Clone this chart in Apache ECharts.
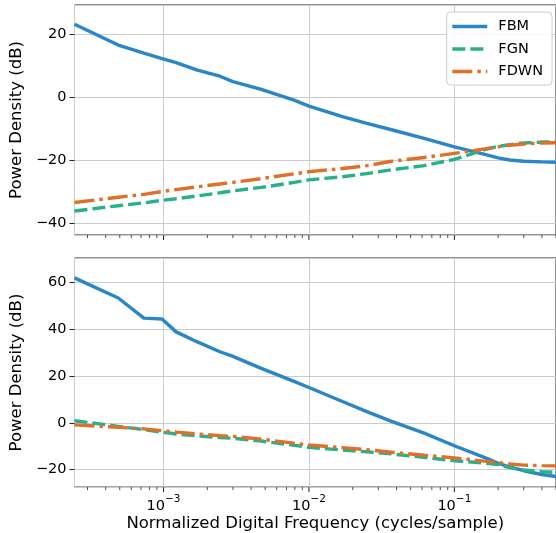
<!DOCTYPE html>
<html>
<head>
<meta charset="utf-8">
<script src="https://cdn.jsdelivr.net/npm/echarts@6/dist/echarts.min.js"></script>
<style>html,body{margin:0;padding:0;background:#fff}#c{width:556px;height:533px}</style>
</head>
<body>
<div id="c"></div>
<script>
// Frequencies (cycles/sample)
const freqs = [1/4096, 2/4096, 3/4096, 4/4096, 5/4096, 7/4096, 10/4096, 0.003, 0.0047, 0.0079, 0.01, 0.017, 0.025, 0.037, 0.062, 0.1, 0.167, 0.2, 0.24, 0.3, 0.4, 0.5];
// Top panel (dB)
const fbmTop  = [23.1, 16.5, 13.9, 12.2, 10.9, 8.5, 6.6, 4.9, 2.4, -1.0, -2.9, -6.2, -8.4, -10.4, -13.1, -15.8, -18.4, -19.3, -20.0, -20.4, -20.6, -20.7];
const fgnTop  = [-36.2, -34.5, -33.6, -32.8, -32.3, -31.4, -30.4, -29.8, -28.7, -27.1, -26.3, -25.3, -24.3, -23.1, -21.8, -19.8, -16.5, -15.7, -15.1, -14.6, -14.3, -14.2];
const fdwnTop = [-33.5, -31.8, -30.9, -30.0, -29.4, -28.5, -27.6, -27.1, -25.9, -24.4, -23.7, -22.7, -21.8, -20.4, -19.2, -17.9, -16.4, -15.8, -15.3, -14.9, -14.6, -14.5];
// Bottom panel (dB)
const fbmBot  = [62.0, 53.4, 44.8, 44.4, 38.9, 34.6, 30.4, 28.4, 23.3, 17.7, 15.1, 9.1, 4.8, 0.6, -4.4, -9.8, -15.2, -17.3, -18.8, -20.5, -22.1, -23.0];
const fgnBot  = [0.9, -1.5, -2.9, -4.0, -4.8, -5.6, -6.3, -6.6, -7.8, -9.6, -10.5, -11.6, -12.4, -13.3, -14.8, -16.2, -17.3, -17.9, -19.2, -20.2, -20.9, -21.2];
const fdwnBot = [-0.9, -1.9, -2.6, -3.4, -4.0, -4.8, -5.5, -5.8, -7.0, -8.7, -9.5, -10.6, -11.5, -12.6, -13.9, -15.0, -16.5, -17.0, -17.6, -18.1, -18.3, -18.4];
const seriesNames = ['FBM', 'FGN', 'FDWN'];
const xMin = 1/4096, xMax = 0.5;
const yRangeTop = [-43.8, 29.2];
const yRangeBot = [-27.5, 70.5];
const yAxisTitle = 'Power Density (dB)';
const xAxisTitle = 'Normalized Digital Frequency (cycles/sample)';

const colors = {FBM: '#2a86c4', FGN: '#27b08c', FDWN: '#df7029'};
const FONT = 'DejaVu Sans';

// tick marks for log axis (major at decades, minor at 2..9)
const tickData = [];
for (let d = -4; d <= -1; d++) {
  for (let k = 1; k <= 9; k++) {
    const v = k * Math.pow(10, d);
    if (v >= xMin && v <= xMax) tickData.push([v, k === 1 ? 1 : 0]);
  }
}

function pairs(ys) { return freqs.map((f, i) => [f, ys[i]]); }
function minusFmt(v) { return v < 0 ? '\u2212' + (-v) : String(v); }

const lineStyles = {
  FBM: {width: 3.4, type: 'solid'},
  FGN: {width: 3.4, type: [13, 5]},
  FDWN: {width: 3.4, type: [20, 5, 3.5, 5]}
};

function mkLine(name, ys, idx) {
  return {
    name: name, type: 'line', xAxisIndex: idx, yAxisIndex: idx,
    data: pairs(ys), symbol: 'none', showSymbol: false, animation: false,
    lineStyle: {color: colors[name], width: lineStyles[name].width, type: lineStyles[name].type, cap: 'butt'},
    itemStyle: {color: colors[name]}
  };
}

function mkTicks(idx, ymin) {
  return {
    type: 'custom', xAxisIndex: idx, yAxisIndex: idx, data: tickData, silent: true, animation: false, clip: false,
    renderItem: function (params, api) {
      const p = api.coord([api.value(0), ymin]);
      const major = api.value(1) === 1;
      return {type: 'line', shape: {x1: p[0], y1: p[1], x2: p[0], y2: p[1] + (major ? 5 : 3)},
        style: {stroke: '#222', lineWidth: major ? 1 : 0.8}};
    }
  };
}

function xAxisCfg(idx, showLabels) {
  return {
    type: 'log', logBase: 10, gridIndex: idx, min: xMin, max: xMax,
    axisLine: {show: false}, axisTick: {show: false},
    splitLine: {show: true, lineStyle: {color: '#cccccc', width: 1}},
    axisLabel: {
      show: showLabels, showMinLabel: false, showMaxLabel: false, margin: 7,
      formatter: function (v) { const e = Math.round(Math.log10(v)); return '{b|10}{s|' + (e < 0 ? '\u2212' + (-e) : e) + '}'; },
      rich: {
        b: {fontFamily: FONT, fontSize: 14.5, color: '#000', lineHeight: 20, verticalAlign: 'bottom'},
        s: {fontFamily: FONT, fontSize: 10.5, color: '#000', lineHeight: 12, verticalAlign: 'top'}
      }
    },
    name: showLabels ? xAxisTitle : '', nameLocation: 'middle', nameGap: 22,
    nameTextStyle: {fontFamily: FONT, fontSize: 16.5, color: '#000'}
  };
}

function yAxisCfg(idx, range) {
  return {
    type: 'value', gridIndex: idx, min: range[0], max: range[1], splitNumber: 4,
    axisLine: {show: false},
    axisTick: {show: true, length: 5, lineStyle: {color: '#222', width: 1}},
    splitLine: {show: true, lineStyle: {color: '#cccccc', width: 1}},
    axisLabel: {showMinLabel: false, showMaxLabel: false, margin: 8, formatter: minusFmt,
      fontFamily: FONT, fontSize: 14.5, color: '#000'},
    name: yAxisTitle, nameLocation: 'middle', nameGap: 41, nameRotate: 90,
    nameTextStyle: {fontFamily: FONT, fontSize: 16.5, color: '#000'}
  };
}

const chart = echarts.init(document.getElementById('c'), null, {renderer: 'canvas'});
chart.setOption({
  backgroundColor: '#fff',
  animation: false,
  grid: [
    {left: 71, top: 5, width: 485, height: 230, show: true, borderColor: '#222', borderWidth: 1, backgroundColor: 'transparent'},
    {left: 71, top: 258, width: 485, height: 230, show: true, borderColor: '#222', borderWidth: 1, backgroundColor: 'transparent'}
  ],
  xAxis: [xAxisCfg(0, false), xAxisCfg(1, true)],
  yAxis: [yAxisCfg(0, yRangeTop), yAxisCfg(1, yRangeBot)],
  legend: {
    data: seriesNames, orient: 'vertical', right: 4, top: 12,
    itemWidth: 35, itemHeight: 12, itemGap: 7.5,
    padding: [7, 9, 6, 4],
    itemStyle: {opacity: 0},
    lineStyle: {width: 3.4},
    backgroundColor: 'rgba(255,255,255,0.85)', borderColor: '#cccccc', borderWidth: 1, borderRadius: 4,
    textStyle: {fontFamily: FONT, fontSize: 14.5, color: '#000', padding: [0, 0, 0, 6]}
  },
  series: [
    mkLine('FBM', fbmTop, 0), mkLine('FGN', fgnTop, 0), mkLine('FDWN', fdwnTop, 0),
    mkLine('FBM', fbmBot, 1), mkLine('FGN', fgnBot, 1), mkLine('FDWN', fdwnBot, 1),
    mkTicks(0, yRangeTop[0]), mkTicks(1, yRangeBot[0])
  ]
});
</script>
</body>
</html>
